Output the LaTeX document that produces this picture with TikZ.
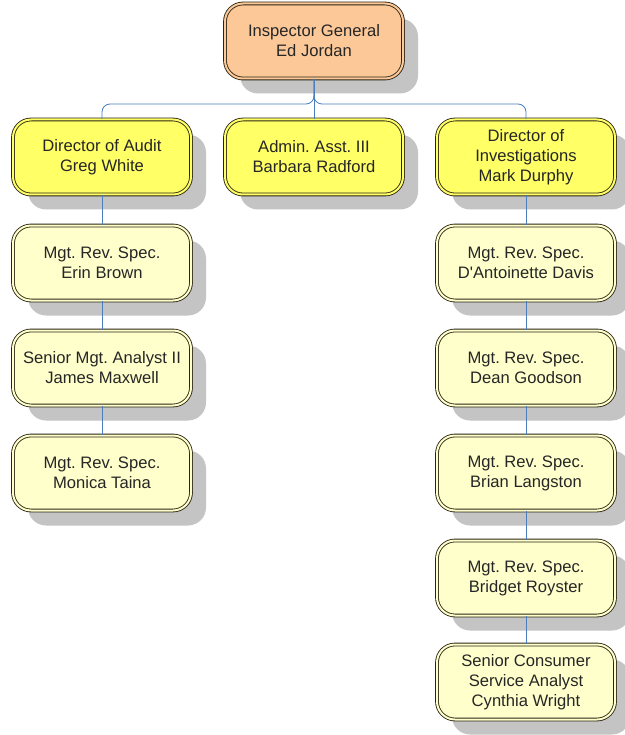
\documentclass[tikz,border=0pt]{standalone}
\usepackage{fontspec}
\setmainfont{Liberation Sans}
\usetikzlibrary{shadows}
\frenchspacing
\definecolor{peach}{HTML}{FCC898}
\definecolor{diryel}{HTML}{FFFF66}
\definecolor{staffyel}{HTML}{FFFFCC}
\definecolor{edgec}{HTML}{2A2412}
\definecolor{linkc}{HTML}{4A7EBB}
\definecolor{shadowc}{HTML}{C4C4C4}
\tikzset{
  orgbox/.style={draw=edgec, line width=0.85pt, double distance=2pt,
    rounded corners=18pt, minimum width=178pt, minimum height=75pt,
    inner sep=0pt, align=center, text=black!85,
    font=\fontsize{16.6}{20}\selectfont,
    drop shadow={shadow xshift=15pt, shadow yshift=-15pt, fill=shadowc, opacity=1}},
  topbox/.style={orgbox, fill=peach, double=peach},
  dirbox/.style={orgbox, fill=diryel, double=diryel},
  staffbox/.style={orgbox, fill=staffyel, double=staffyel},
  conn/.style={draw=linkc, line width=0.8pt}
}
\begin{document}
\begin{tikzpicture}[x=1pt, y=-1pt]
\useasboundingbox[fill=white] (0,0) rectangle (624,735);
\node[topbox] (ig) at (314,41) {Inspector General\\Ed Jordan};
\node[dirbox] (da) at (102,157) {Director of Audit\\Greg White};
\node[dirbox] (aa) at (314,157) {Admin. Asst. III\\Barbara Radford};
\node[dirbox] (di) at (526,157) {Director of\\Investigations\\Mark Durphy};
\node[staffbox] (l1) at (102,263) {Mgt. Rev. Spec.\\Erin Brown};
\node[staffbox] (l2) at (102,368) {Senior Mgt. Analyst II\\James Maxwell};
\node[staffbox] (l3) at (102,473) {Mgt. Rev. Spec.\\Monica Taina};
\node[staffbox] (r1) at (526,263) {Mgt. Rev. Spec.\\D\textquotesingle Antoinette Davis};
\node[staffbox] (r2) at (526,368) {Mgt. Rev. Spec.\\Dean Goodson};
\node[staffbox] (r3) at (526,473) {Mgt. Rev. Spec.\\Brian Langston};
\node[staffbox] (r4) at (526,578) {Mgt. Rev. Spec.\\Bridget Royster};
\node[staffbox] (r5) at (526,682) {Senior Consumer\\Service Analyst\\Cynthia Wright};
\coordinate (bus) at (314,104);
\draw[conn, rounded corners=8pt] (ig.south) -- (bus) -| (da.north);
\draw[conn, rounded corners=8pt] (ig.south) -- (bus) -| (di.north);
\draw[conn] (ig.south) -- (aa.north);
\draw[conn] (da.south) -- (l1.north);
\draw[conn] (l1.south) -- (l2.north);
\draw[conn] (l2.south) -- (l3.north);
\draw[conn] (di.south) -- (r1.north);
\draw[conn] (r1.south) -- (r2.north);
\draw[conn] (r2.south) -- (r3.north);
\draw[conn] (r3.south) -- (r4.north);
\draw[conn] (r4.south) -- (r5.north);
\end{tikzpicture}
\end{document}
